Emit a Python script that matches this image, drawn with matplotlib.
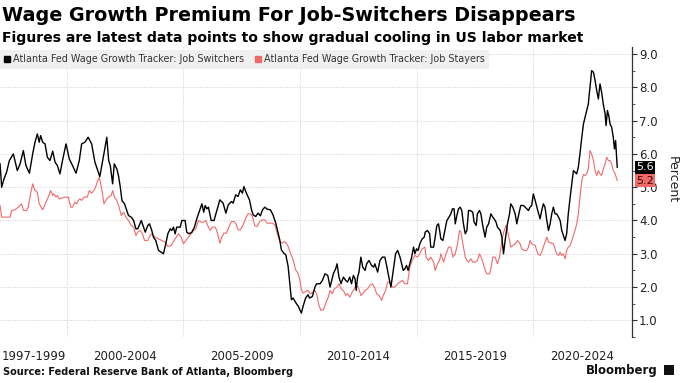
import matplotlib
matplotlib.use('Agg')
import matplotlib.pyplot as plt
from matplotlib.lines import Line2D
from matplotlib.patches import Rectangle

# Atlanta Fed wage growth tracker (decimal year, percent)
switcher_years = [
    1997.13, 1997.20, 1997.30, 1997.41, 1997.53, 1997.70, 1997.87, 1997.99, 1998.13, 1998.24,
    1998.39, 1998.53, 1998.63, 1998.73, 1998.81, 1998.87, 1998.96, 1999.06, 1999.16, 1999.27,
    1999.39, 1999.49, 1999.59, 1999.70, 1999.81, 1999.96, 2000.10, 2000.24, 2000.39, 2000.53,
    2000.63, 2000.77, 2000.91, 2001.06, 2001.20, 2001.41, 2001.56, 2001.71, 2001.79, 2001.86,
    2001.96, 2002.03, 2002.14, 2002.21, 2002.29, 2002.36, 2002.47, 2002.57, 2002.64, 2002.76,
    2002.86, 2002.96, 2003.04, 2003.19, 2003.29, 2003.36, 2003.47, 2003.54, 2003.64, 2003.71,
    2003.81, 2003.93, 2004.04, 2004.14, 2004.24, 2004.33, 2004.43, 2004.50, 2004.57, 2004.64,
    2004.71, 2004.86, 2004.93, 2005.07, 2005.14, 2005.24, 2005.36, 2005.47, 2005.57, 2005.67,
    2005.79, 2005.87, 2005.93, 2006.00, 2006.07, 2006.19, 2006.31, 2006.43, 2006.56, 2006.70,
    2006.82, 2006.92, 2007.06, 2007.13, 2007.24, 2007.34, 2007.44, 2007.53, 2007.59, 2007.70,
    2007.83, 2007.92, 2007.99, 2008.10, 2008.20, 2008.30, 2008.39, 2008.49, 2008.59, 2008.73,
    2008.84, 2008.96, 2009.06, 2009.13, 2009.20, 2009.30, 2009.39, 2009.49, 2009.56, 2009.63,
    2009.70, 2009.83, 2009.93, 2009.99, 2010.06, 2010.13, 2010.24, 2010.34, 2010.41, 2010.53,
    2010.64, 2010.71, 2010.86, 2010.96, 2011.07, 2011.19, 2011.29, 2011.43, 2011.53, 2011.59,
    2011.67, 2011.76, 2011.86, 2011.96, 2012.04, 2012.13, 2012.21, 2012.29, 2012.36, 2012.41,
    2012.47, 2012.53, 2012.61, 2012.69, 2012.79, 2012.86, 2012.96, 2013.07, 2013.16, 2013.21,
    2013.33, 2013.43, 2013.53, 2013.64, 2013.73, 2013.81, 2013.90, 2014.00, 2014.10, 2014.19,
    2014.29, 2014.36, 2014.43, 2014.50, 2014.57, 2014.64, 2014.71, 2014.79, 2014.87, 2014.93,
    2015.00, 2015.07, 2015.14, 2015.24, 2015.33, 2015.37, 2015.47, 2015.56, 2015.61, 2015.73,
    2015.80, 2015.87, 2015.94, 2015.99, 2016.04, 2016.13, 2016.23, 2016.30, 2016.39, 2016.47,
    2016.54, 2016.61, 2016.66, 2016.73, 2016.80, 2016.87, 2016.94, 2017.01, 2017.09, 2017.16,
    2017.23, 2017.30, 2017.41, 2017.47, 2017.56, 2017.61, 2017.70, 2017.76, 2017.84, 2017.94,
    2018.01, 2018.09, 2018.19, 2018.27, 2018.33, 2018.41, 2018.47, 2018.59, 2018.66, 2018.73,
    2018.80, 2018.90, 2018.99, 2019.04, 2019.13, 2019.23, 2019.30, 2019.39, 2019.47, 2019.59,
    2019.66, 2019.80, 2019.87, 2019.94, 2020.01, 2020.09, 2020.20, 2020.30, 2020.37, 2020.44,
    2020.51, 2020.59, 2020.66, 2020.73, 2020.80, 2020.87, 2020.94, 2021.01, 2021.09, 2021.16,
    2021.23, 2021.30, 2021.37, 2021.44, 2021.51, 2021.59, 2021.66, 2021.73, 2021.80, 2021.87,
    2021.94, 2022.01, 2022.09, 2022.16, 2022.23, 2022.30, 2022.37, 2022.41, 2022.47, 2022.51,
    2022.59, 2022.66, 2022.73, 2022.80, 2022.87, 2022.94, 2023.01, 2023.09, 2023.13, 2023.19,
    2023.26, 2023.30, 2023.37, 2023.44, 2023.49, 2023.54, 2023.61,
]
switcher_vals = [
    5.7, 5.0, 5.25, 5.45, 5.8, 6.0, 5.5, 5.7, 6.1, 5.65,
    5.42, 6.0, 6.35, 6.6, 6.35, 6.55, 6.35, 6.3, 5.9, 5.8,
    6.08, 5.75, 5.65, 5.4, 5.8, 6.3, 5.85, 5.65, 5.42, 5.8,
    6.3, 6.35, 6.5, 6.3, 5.75, 5.32, 5.9, 6.5, 5.8, 5.65,
    5.1, 5.7, 5.55, 5.35, 5.0, 4.6, 4.5, 4.3, 4.15, 4.1,
    4.0, 3.75, 3.75, 4.0, 3.8, 3.65, 3.85, 3.9, 3.7, 3.5,
    3.4, 3.1, 3.05, 3.0, 3.3, 3.6, 3.75, 3.7, 3.8, 3.6,
    3.8, 3.8, 4.0, 4.0, 3.65, 3.6, 3.65, 3.8, 4.05, 4.25,
    4.5, 4.25, 4.45, 4.35, 4.4, 4.0, 4.0, 4.3, 4.62, 4.52,
    4.22, 4.47, 4.57, 4.52, 4.77, 4.72, 4.92, 4.82, 5.02, 4.82,
    4.62, 4.32, 4.17, 4.12, 4.22, 4.14, 4.32, 4.4, 4.34, 4.32,
    4.17, 3.92, 3.62, 3.42, 3.12, 3.02, 2.97, 2.62, 2.12, 1.62,
    1.67, 1.52, 1.42, 1.32, 1.22, 1.42, 1.67, 1.77, 1.67, 1.72,
    2.0, 2.1, 2.1, 2.2, 2.4, 2.35, 2.0, 2.4, 2.55, 2.7,
    2.3, 2.1, 2.3, 2.2, 2.15, 2.3, 2.1, 2.35, 2.25, 1.9,
    2.3, 2.45, 2.9, 2.6, 2.5, 2.7, 2.8, 2.65, 2.6, 2.7,
    2.45, 2.8, 2.9, 2.9, 2.6, 2.3, 2.0, 2.5, 3.0, 3.1,
    2.9, 2.7, 2.5, 2.55, 2.65, 2.5, 2.7, 2.9, 3.2, 3.0,
    3.15, 3.1, 3.3, 3.45, 3.5, 3.65, 3.7, 3.6, 3.2, 3.2,
    3.5, 3.85, 3.9, 3.7, 3.45, 3.4, 3.75, 4.0, 4.1, 4.2,
    4.35, 4.35, 3.9, 4.15, 4.35, 4.4, 4.3, 3.9, 3.6, 3.7,
    4.3, 4.3, 4.25, 3.95, 3.85, 4.2, 4.3, 4.2, 3.85, 3.5,
    3.8, 3.9, 4.2, 4.1, 4.05, 3.95, 3.8, 3.7, 3.5, 3.0,
    3.4, 3.9, 4.2, 4.5, 4.4, 4.2, 3.9, 4.2, 4.45, 4.45,
    4.4, 4.3, 4.4, 4.45, 4.8, 4.6, 4.3, 4.05, 4.3, 4.5,
    4.4, 4.0, 3.7, 3.9, 4.2, 4.4, 4.2, 4.2, 4.1, 4.0,
    3.7, 3.55, 3.4, 3.6, 4.2, 4.7, 5.1, 5.5, 5.45, 5.4,
    5.6, 6.0, 6.5, 6.9, 7.1, 7.3, 7.5, 7.8, 8.2, 8.5,
    8.45, 8.2, 7.9, 7.65, 8.1, 7.85, 7.5, 7.2, 6.85, 7.3,
    7.1, 6.9, 6.8, 6.5, 6.15, 6.4, 5.6,
]

stayer_years = [
    1997.13, 1997.20, 1997.56, 1997.63, 1997.77, 1997.91, 1998.06, 1998.13, 1998.27, 1998.34,
    1998.44, 1998.53, 1998.63, 1998.73, 1998.81, 1998.96, 1999.10, 1999.20, 1999.30, 1999.39,
    1999.44, 1999.53, 1999.59, 1999.67, 1999.91, 2000.06, 2000.16, 2000.24, 2000.34, 2000.41,
    2000.49, 2000.56, 2000.63, 2000.73, 2000.87, 2000.96, 2001.06, 2001.20, 2001.30, 2001.39,
    2001.49, 2001.59, 2001.70, 2001.79, 2001.90, 2001.96, 2002.04, 2002.14, 2002.24, 2002.33,
    2002.43, 2002.53, 2002.64, 2002.76, 2002.86, 2002.96, 2003.04, 2003.14, 2003.24, 2003.33,
    2003.47, 2003.57, 2003.64, 2003.79, 2003.93, 2004.07, 2004.21, 2004.33, 2004.47, 2004.64,
    2004.79, 2004.90, 2005.00, 2005.10, 2005.21, 2005.33, 2005.43, 2005.53, 2005.64, 2005.76,
    2005.86, 2005.96, 2006.04, 2006.14, 2006.24, 2006.36, 2006.43, 2006.56, 2006.63, 2006.73,
    2006.84, 2006.96, 2007.06, 2007.16, 2007.24, 2007.34, 2007.44, 2007.56, 2007.67, 2007.77,
    2007.87, 2007.96, 2008.06, 2008.16, 2008.27, 2008.39, 2008.49, 2008.59, 2008.82, 2008.92,
    2009.02, 2009.13, 2009.24, 2009.34, 2009.41, 2009.49, 2009.59, 2009.70, 2009.81, 2009.91,
    2009.99, 2010.06, 2010.13, 2010.24, 2010.34, 2010.44, 2010.56, 2010.64, 2010.71, 2010.81,
    2010.90, 2011.00, 2011.10, 2011.21, 2011.29, 2011.39, 2011.47, 2011.59, 2011.67, 2011.76,
    2011.86, 2011.96, 2012.04, 2012.14, 2012.24, 2012.33, 2012.39, 2012.50, 2012.61, 2012.69,
    2012.79, 2012.90, 2013.00, 2013.10, 2013.19, 2013.29, 2013.39, 2013.50, 2013.57, 2013.67,
    2013.76, 2013.86, 2013.96, 2014.07, 2014.19, 2014.29, 2014.39, 2014.50, 2014.61, 2014.71,
    2014.81, 2014.93, 2015.04, 2015.14, 2015.24, 2015.36, 2015.41, 2015.51, 2015.61, 2015.73,
    2015.80, 2015.90, 2015.99, 2016.04, 2016.16, 2016.27, 2016.37, 2016.47, 2016.56, 2016.66,
    2016.76, 2016.84, 2016.90, 2016.99, 2017.09, 2017.16, 2017.23, 2017.33, 2017.41, 2017.51,
    2017.61, 2017.70, 2017.80, 2017.90, 2018.01, 2018.13, 2018.20, 2018.27, 2018.37, 2018.47,
    2018.56, 2018.66, 2018.76, 2018.84, 2018.90, 2018.99, 2019.04, 2019.13, 2019.23, 2019.33,
    2019.44, 2019.51, 2019.61, 2019.73, 2019.80, 2019.87, 2019.94, 2020.09, 2020.20, 2020.30,
    2020.37, 2020.44, 2020.51, 2020.59, 2020.66, 2020.87, 2020.94, 2021.01, 2021.09, 2021.16,
    2021.23, 2021.30, 2021.37, 2021.44, 2021.51, 2021.59, 2021.66, 2021.80, 2021.87, 2021.94,
    2022.01, 2022.09, 2022.16, 2022.23, 2022.30, 2022.37, 2022.44, 2022.51, 2022.59, 2022.66,
    2022.73, 2022.80, 2022.87, 2022.94, 2023.01, 2023.09, 2023.16, 2023.23, 2023.30, 2023.37,
    2023.44, 2023.51, 2023.61,
]
stayer_vals = [
    4.45, 4.1, 4.1, 4.3, 4.32, 4.4, 4.5, 4.3, 4.3, 4.4,
    4.8, 5.1, 4.9, 4.85, 4.5, 4.32, 4.55, 4.7, 4.9, 4.75,
    4.8, 4.7, 4.75, 4.65, 4.7, 4.7, 4.4, 4.4, 4.55, 4.5,
    4.6, 4.65, 4.6, 4.7, 4.7, 4.9, 4.82, 4.95, 5.15, 5.3,
    4.95, 4.5, 4.65, 4.7, 4.75, 4.9, 4.7, 4.6, 4.4, 4.15,
    4.25, 4.1, 4.0, 3.85, 3.8, 3.55, 3.65, 3.7, 3.6, 3.4,
    3.4, 3.55, 3.6, 3.5, 3.45, 3.4, 3.35, 3.22, 3.25, 3.45,
    3.6, 3.5, 3.3, 3.4, 3.5, 3.6, 3.7, 3.75, 4.0, 3.95,
    3.95, 4.0, 3.85, 3.7, 3.8, 3.8, 3.7, 3.32, 3.47, 3.62,
    3.62, 3.82, 3.97, 3.97, 3.92, 3.72, 3.72, 3.87, 4.07, 4.2,
    4.2, 4.12, 3.84, 3.82, 3.97, 4.02, 4.02, 3.92, 3.92, 3.87,
    3.62, 3.37, 3.32, 3.37, 3.32, 3.22, 3.02, 2.82, 2.52, 2.42,
    2.22, 1.92, 1.82, 1.87, 1.9, 1.8, 1.85, 1.9, 1.8, 1.45,
    1.3, 1.32, 1.5, 1.7, 1.9, 1.8, 1.95, 2.0, 2.1, 1.95,
    1.9, 1.75, 1.8, 1.7, 1.85, 1.95, 2.05, 2.0, 1.75, 1.8,
    1.9, 1.95, 2.05, 2.1, 2.0, 1.8, 1.75, 1.6, 1.75, 1.9,
    2.15, 2.15, 2.0, 2.0, 2.1, 2.15, 2.2, 2.1, 2.1, 2.6,
    2.8, 2.95, 2.9, 3.0, 3.15, 3.2, 2.9, 2.8, 2.9, 2.75,
    2.5, 2.7, 2.8, 3.0, 2.75, 3.0, 3.2, 3.2, 2.9, 3.0,
    3.3, 3.7, 3.65, 3.3, 2.9, 2.8, 2.75, 2.85, 2.75, 2.75,
    2.8, 3.0, 2.85, 2.6, 2.4, 2.4, 2.6, 2.9, 2.9, 2.7,
    2.9, 3.4, 3.7, 3.85, 3.7, 3.4, 3.2, 3.25, 3.3, 3.4,
    3.3, 3.15, 3.1, 3.1, 3.2, 3.4, 3.3, 3.25, 3.0, 2.95,
    3.05, 3.2, 3.35, 3.5, 3.35, 3.3, 3.15, 3.0, 2.95, 3.05,
    2.95, 3.0, 2.85, 3.1, 3.2, 3.25, 3.4, 3.7, 3.9, 4.2,
    4.7, 5.2, 5.38, 5.35, 5.4, 5.55, 6.1, 6.0, 5.8, 5.5,
    5.35, 5.5, 5.4, 5.35, 5.55, 5.7, 5.9, 5.8, 5.8, 5.7,
    5.5, 5.42, 5.2,
]

period_labels = ['1997-1999', '2000-2004', '2005-2009', '2010-2014', '2015-2019', '2020-2024']
period_edges = [2000, 2005, 2010, 2015, 2020]
y_ticks = [1, 2, 3, 4, 5, 6, 7, 8, 9]

BLACK = '#000000'
RED = '#f06a6a'

fig = plt.figure(figsize=(6.8, 3.83), dpi=100)
ax = fig.add_axes([0.0, 0.12, 0.9294, 0.7573])

ax.plot(switcher_years, switcher_vals, color=BLACK, lw=1.0, zorder=3)
ax.plot(stayer_years, stayer_vals, color=RED, lw=0.8, zorder=2)

x0, x1 = 1997.128, 2024.243
ax.set_xlim(x0, x1)
ax.set_ylim(0.51, 9.21)

for s in ['left', 'top', 'bottom']:
    ax.spines[s].set_visible(False)
ax.spines['right'].set_color('#333333')
ax.spines['right'].set_linewidth(0.9)

ax.yaxis.tick_right()
ax.set_yticks(y_ticks)
ax.set_yticklabels(['%.1f' % v for v in y_ticks])
ax.set_yticks([v + 0.5 for v in y_ticks[:-1]] + [0.5], minor=True)
ax.tick_params(axis='y', which='major', length=3.5, width=0.8, pad=1.5,
               labelsize=8.5, colors='#333333', labelcolor='#222222')
ax.tick_params(axis='y', which='minor', length=2, width=0.6, colors='#333333')

ax.set_xticks(period_edges)
ax.set_xticklabels([])
edges = [x0] + period_edges + [x1]
centers = [(a + b) / 2 for a, b in zip(edges[:-1], edges[1:])]
ax.set_xticks(centers, minor=True)
ax.set_xticklabels(period_labels, minor=True)
ax.tick_params(axis='x', which='both', length=0, pad=9, labelsize=8.5, labelcolor='#222222')

ax.grid(which='major', color='#cfcfcf', linestyle=(0, (1, 1.5)), linewidth=0.7)
ax.set_axisbelow(True)

# last-value tags, drawn over the tick labels like the original
for val, fc, tc in [(5.6, BLACK, 'white'), (5.2, RED, '#3a0000')]:
    ax.annotate('%.1f' % val, xy=(1.0, val), xycoords=('axes fraction', 'data'),
                xytext=(3.0, 0), textcoords='offset points', ha='left', va='center',
                fontsize=8, color=tc, annotation_clip=False, zorder=6,
                bbox=dict(boxstyle='square,pad=0.12', fc=fc, ec='none'))

fig.text(0.988, 0.53, 'Percent', rotation=270, ha='center', va='center',
         fontsize=9, color='#222222')

handles = [Line2D([], [], color=BLACK, marker='s', linestyle='none', markersize=5),
           Line2D([], [], color=RED, marker='s', linestyle='none', markersize=5)]
leg = ax.legend(handles, ['Atlanta Fed Wage Growth Tracker: Job Switchers',
                          'Atlanta Fed Wage Growth Tracker: Job Stayers'],
                loc='upper left', bbox_to_anchor=(0.0, 1 - 50 / 383),
                bbox_transform=fig.transFigure, ncol=2, frameon=True,
                fancybox=False, borderaxespad=0, fontsize=6.9,
                handlelength=0.6, handletextpad=0.3, columnspacing=1.2,
                borderpad=0.45, labelcolor='#333333')
leg.get_frame().set_facecolor('#f0f0f0')
leg.get_frame().set_edgecolor('none')
leg.get_frame().set_alpha(1)
leg.set_zorder(5)

fig.text(0.003, 0.985, 'Wage Growth Premium For Job-Switchers Disappears',
         ha='left', va='top', fontsize=13.8, fontweight='bold', color='black')
fig.text(0.003, 0.92, 'Figures are latest data points to show gradual cooling in US labor market',
         ha='left', va='top', fontsize=10.1, fontweight='bold', color='black')

fig.text(0.004, 0.015, 'Source: Federal Reserve Bank of Atlanta, Bloomberg',
         ha='left', va='bottom', fontsize=7, fontweight='bold', color='#111111')
fig.text(0.967, 0.015, 'Bloomberg', ha='right', va='bottom', fontsize=8.5,
         fontweight='bold', color='#111111')
fig.patches.append(Rectangle((0.976, 0.02), 0.015, 0.027, transform=fig.transFigure,
                             facecolor='#111111', edgecolor='none'))

fig.savefig('out.png', dpi=100)
